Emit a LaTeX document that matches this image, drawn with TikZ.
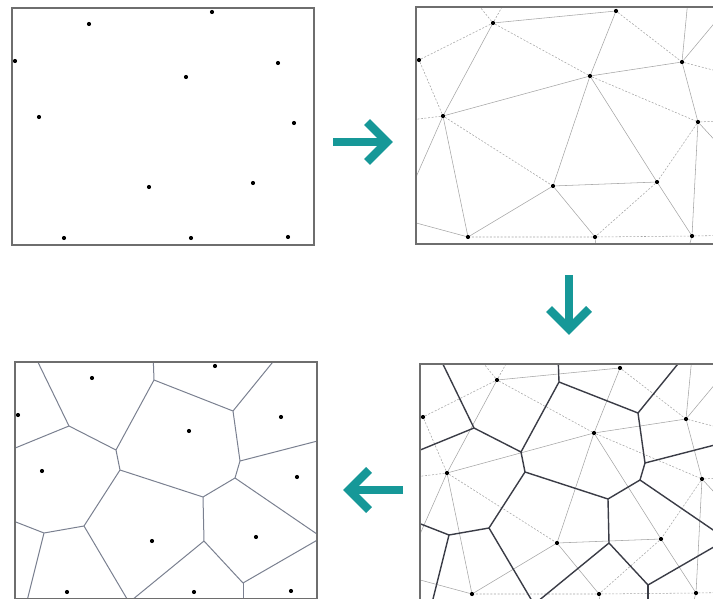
\documentclass[tikz,border=0pt]{standalone}
\usepackage{tikz}
\usetikzlibrary{calc}

\definecolor{stepteal}{RGB}{22,152,152}
\definecolor{cellline}{RGB}{122,128,144}
\definecolor{celldark}{RGB}{58,60,70}
\definecolor{triline}{RGB}{165,165,165}
\definecolor{boxline}{RGB}{110,110,110}

% the twelve sites, with the far ends of the mesh and cell edges
\newcommand{\placesites}{%
  \node[site] (a) at (89,24) {};
  \node[site] (b) at (212,12) {};
  \node[site] (c) at (15,61) {};
  \node[site] (d) at (186,77) {};
  \node[site] (e) at (278,63) {};
  \node[site] (f) at (39,117) {};
  \node[site] (g) at (294,123) {};
  \node[site] (h) at (149,187) {};
  \node[site] (i) at (253,183) {};
  \node[site] (j) at (64,238) {};
  \node[site] (k) at (191,238) {};
  \node[site] (l) at (288,237) {};
  \coordinate (out1) at (63,-8);
  \coordinate (out2) at (107,-8);
  \coordinate (out3) at (285,-10);
  \coordinate (out4) at (318,15);
  \coordinate (out5) at (340,79);
  \coordinate (out6) at (340,121);
  \coordinate (out7) at (330,162);
  \coordinate (out8) at (345,236);
  \coordinate (out9) at (282,258);
  \coordinate (out10) at (193,258);
  \coordinate (out11) at (-10,218);
  \coordinate (out12) at (-10,123);
  \coordinate (out13) at (5,194);
  \coordinate (v1) at (66,72);
  \coordinate (v2) at (113,96);
  \coordinate (v3) at (151,26);
  \coordinate (v4) at (230,57);
  \coordinate (v5) at (237,107);
  \coordinate (v6) at (232,124);
  \coordinate (v7) at (200,143);
  \coordinate (v8) at (117,116);
  \coordinate (v9) at (81,172);
  \coordinate (v10) at (41,179);
  \coordinate (v11) at (201,187);
  \coordinate (v12) at (240,229);
  \coordinate (w1) at (30,-2);
  \coordinate (w2) at (0,99);
  \coordinate (w3) at (150,-2);
  \coordinate (w4) at (278,-2);
  \coordinate (w5) at (330,83);
  \coordinate (w6) at (330,191);
  \coordinate (w7) at (330,177);
  \coordinate (w8) at (118,255);
  \coordinate (w9) at (240,255);
  \coordinate (w10) at (130,255);
  \coordinate (w11) at (22,255);
  \coordinate (w12) at (0,163);
}

% triangulation
\newcommand{\drawmesh}{%
  \draw[tri] (a) -- (b) -- (d) -- (e) -- (g) -- (l) -- (i) -- (h) -- (k);
  \draw[tri] (a) -- (f) -- (d) -- (h) -- (j) -- (f);
  \draw[tri] (d) -- (i);
  \draw[tri] (j) -- (out11);
  \draw[tri] (f) -- (out13);
  \draw[tri] (e) -- (out3);
  \draw[tri] (e) -- (out4);
  \draw[tri] (g) -- (out7);
  \draw[tri] (l) -- (out9);
  \draw[tri] (k) -- (out10);
  \draw[tridash] (c) -- (a) -- (d) -- (g) -- (i) -- (k) -- (j);
  \draw[tridash] (c) -- (f) -- (h);
  \draw[tridash] (b) -- (e) -- (out5);
  \draw[tridash] (k) -- (l) -- (out8);
  \draw[tridash] (g) -- (out6);
  \draw[tridash] (f) -- (out12);
  \draw[tridash] (a) -- (out1);
  \draw[tridash] (a) -- (out2);
}

% cells
\newcommand{\drawcells}[1]{%
  \draw[#1] (w1) -- (v1) -- (v2) -- (v3) -- (w3);
  \draw[#1] (v1) -- (w2);
  \draw[#1] (v2) -- (v8) -- (v9) -- (v10) -- (w12);
  \draw[#1] (v3) -- (v4) -- (w4);
  \draw[#1] (v4) -- (v5) -- (w5);
  \draw[#1] (v5) -- (v6) -- (w6);
  \draw[#1] (v6) -- (v7) -- (v8);
  \draw[#1] (v7) -- (v11) -- (v12) -- (w7);
  \draw[#1] (v11) -- (w8);
  \draw[#1] (v12) -- (w9);
  \draw[#1] (v9) -- (w10);
  \draw[#1] (v10) -- (w11);
}

\begin{document}
\begin{tikzpicture}[
  x=1pt, y=-1pt,
  site/.style={circle, fill=black, inner sep=0pt, minimum size=4.2pt},
  panel/.style={draw=boxline, line width=1.1pt},
  tri/.style={draw=triline, line width=0.55pt},
  tridash/.style={draw=triline, line width=0.55pt, dash pattern=on 2pt off 1.6pt},
  celldk/.style={draw=celldark, line width=1.4pt, line join=round},
  celllt/.style={draw=cellline, line width=1pt, line join=round},
  turn/.style={draw=stepteal, line width=8.4pt},
]
\path[use as bounding box, clip] (0,0) rectangle (713,599);

% points
\begin{scope}[name prefix=tl-]
  \placesites
  \draw[panel] (12,8) rectangle (314,245);
\end{scope}

% triangulation
\begin{scope}[shift={(404,-1)}, name prefix=tr-]
  \placesites
  \begin{scope}
    \clip (12,8) rectangle (314,245);
    \drawmesh
  \end{scope}
  \draw[panel] (12,8) rectangle (314,245);
\end{scope}

% triangulation and cells
\begin{scope}[shift={(408,356)}, name prefix=br-]
  \placesites
  \begin{scope}
    \clip (12,8) rectangle (314,245);
    \drawmesh
    \drawcells{celldk}
  \end{scope}
  \draw[panel] (12,8) rectangle (314,245);
\end{scope}

% cells only
\begin{scope}[shift={(3,354)}, name prefix=bl-]
  \placesites
  \begin{scope}
    \clip (12,8) rectangle (314,245);
    \drawcells{celllt}
  \end{scope}
  \draw[panel, line width=1.5pt] (12,8) rectangle (314,245);
\end{scope}

% steps
\coordinate (r0) at (333,142);
\coordinate (r1) at (387,142);
\draw[turn] (r0) -- (r1);
\draw[turn] ($(r1)+(-20,-20)$) -- (r1) -- ($(r1)+(-20,20)$);

\coordinate (dn0) at (569,275);
\coordinate (dn1) at (569,329);
\draw[turn] (dn0) -- (dn1);
\draw[turn] ($(dn1)+(-20,-20)$) -- (dn1) -- ($(dn1)+(20,-20)$);

\coordinate (lf0) at (403,490);
\coordinate (lf1) at (349,490);
\draw[turn] (lf0) -- (lf1);
\draw[turn] ($(lf1)+(20,-20)$) -- (lf1) -- ($(lf1)+(20,20)$);
\end{tikzpicture}
\end{document}
